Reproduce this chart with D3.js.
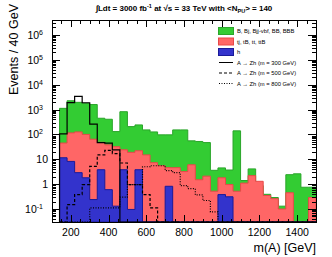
<!DOCTYPE html>
<html>
<head>
<meta charset="utf-8">
<style>
  body { margin: 0; background: #fff; }
  svg text { font-family: "Liberation Sans", Arial, sans-serif; fill: #000; }
  .frame { fill: none; stroke: #000; stroke-width: 1px; shape-rendering: crispEdges; }
  .tk { stroke: #000; stroke-width: 1px; shape-rendering: crispEdges; }
</style>
</head>
<body>
<script src="https://d3js.org/d3.v7.min.js"></script>
<script>
// binning: 40 GeV bins from 140 GeV
var binLow = 140, binWidth = 40;

// stacked tops as drawn (ROOT THStack): green = all, red = tt + h, blue = h
var bkgAll = [1120, 2260, 1950, 1780, 1590, 447, 407, 130, 820, 206, 241, 152,
              126, 96, 96, 152, 152, 55, 52, 47, 3.6, 4.5, 3.7, 139, 1.4, 4.1,
              0.87, 0.39, 0.29, 0.13, 2.4, 2.6, 0.75, 0.75];
var bkgTop = [45, 115, 126, 100, 64, 48, 38, 32, 24, 19, 22, 15,
              7.3, 5.5, 4.6, 4.6, 3.2, 6.0, 1.5, 2.1, 0.52, 1.8, 0.96, 0.52, 1.1, 2.2,
              1.3, 0.35, 0.26, 0.10, 0.45, 0, 0, 0.29];
var bkgH   = [11.5, 8.2, 2.9, 1.8, 0.24, 3.8, 0.6, 0.13, 3.8, 0.096, 3.8, 0,
              0, 0, 0.82, 0, 0, 0, 0, 0, 0, 0.38, 0.31, 0, 0, 0,
              0, 0, 0, 0, 0, 0, 0, 0];
// signals
var sig300 = [105, 1900, 3400, 1880, 260, 47, 45, 24, 0, 0, 0, 0,
              0, 0, 0, 0, 0, 0, 0, 0, 0, 0, 0, 0, 0, 0,
              0, 0, 0, 0, 0, 0, 0, 0];
var sig500 = [0, 0.15, 0.38, 0.96, 5.2, 15, 23, 17, 7.1, 0.96, 0.96, 0.38,
              0.11, 0, 0, 0, 0, 0, 0, 0, 0, 0, 0, 0, 0, 0,
              0, 0, 0, 0, 0, 0, 0, 0];
var sig800 = [0, 0, 0, 0, 0.11, 0.11, 0.11, 0.11, 0.3, 0.96, 0.96, 5,
              5.5, 5.5, 3.5, 2.9, 0.87, 0.66, 0.37, 0.22, 0.076, 0, 0, 0, 0, 0,
              0, 0, 0, 0, 0, 0, 0, 0];

var xTicks = [200, 400, 600, 800, 1000, 1200, 1400];
var yTicks = [0.1, 1, 10, 100, 1e3, 1e4, 1e5, 1e6];
var yLabels = [["10", "-1"], ["1", ""], ["10", ""], ["10", "2"], ["10", "3"],
               ["10", "4"], ["10", "5"], ["10", "6"]];

var legendNames = ["B, Bj, Bjj-vbf, BB, BBB", "tj, tB, tt, ttB", "h",
                   "A \u2192 Zh (m = 300 GeV)", "A \u2192 Zh (m = 500 GeV)",
                   "A \u2192 Zh (m = 800 GeV)"];

var W = 332, H = 257;
var pLeft = 52, pRight = 316, pTop = 20, pBottom = 222;

var svg = d3.select("body").append("svg")
    .attr("width", W).attr("height", H);

var x = d3.scaleLinear().domain([100, 1500]).range([pLeft, pRight]);
var y = d3.scaleLog().domain([0.03, 4e6]).range([pBottom, pTop]);

function yv(v) { return v > y.domain()[0] ? y(v) : pBottom; }

// step outline of a histogram, starting and ending on the floor
function steps(vals) {
  var pts = [[x(binLow), pBottom]];
  vals.forEach(function (v, i) {
    var x0 = x(binLow + i * binWidth), x1 = x(binLow + (i + 1) * binWidth);
    pts.push([x0, yv(v)], [Math.min(x1, pRight), yv(v)]);
  });
  pts.push([Math.min(x(binLow + vals.length * binWidth), pRight), pBottom]);
  return pts;
}
var line = d3.line();

var plot = svg.append("g");

// stacked backgrounds
[[bkgAll, "#33cc33", "#2aa52a"], [bkgTop, "#ff6666", "#e84848"], [bkgH, "#3333cc", "#1a1a99"]]
  .forEach(function (s) {
    plot.append("path")
        .attr("d", line(steps(s[0])) + "Z")
        .style("fill", s[1])
        .style("stroke", s[2])
        .style("stroke-width", "1px");
  });

// signal outlines
[[sig300, null], [sig500, "3,2"], [sig800, "1,1.5"]].forEach(function (s) {
  plot.append("path")
      .attr("d", line(steps(s[0])))
      .style("fill", "none")
      .style("stroke", "#000")
      .style("stroke-width", "1.2px")
      .style("stroke-dasharray", s[1]);
});

// frame
svg.append("rect").attr("class", "frame")
    .attr("x", pLeft + 0.5).attr("y", pTop + 0.5)
    .attr("width", pRight - pLeft).attr("height", pBottom - pTop);

// x ticks, bottom and top, pointing in
var xMinor = d3.range(150, 1500, 50);
xMinor.forEach(function (t) {
  var len = (t % 200 === 0) ? 7 : 3.5;
  var px = Math.round(x(t)) + 0.5;
  svg.append("line").attr("class", "tk")
      .attr("x1", px).attr("x2", px).attr("y1", pBottom).attr("y2", pBottom - len);
  svg.append("line").attr("class", "tk")
      .attr("x1", px).attr("x2", px).attr("y1", pTop).attr("y2", pTop + len);
});

svg.append("g").selectAll("text")
  .data(xTicks)
  .join("text")
    .attr("x", function (d) { return x(d); })
    .attr("y", pBottom + 14)
    .attr("text-anchor", "middle")
    .style("font-size", "10.5px")
    .text(function (d) { return d; });

// y ticks, left and right
var yMinor = y.ticks().filter(function (t) { return t >= 0.03 && t <= 4e6; });
yMinor.forEach(function (t) {
  var lg = Math.log10(t);
  var major = Math.abs(lg - Math.round(lg)) < 1e-6;
  var len = major ? 8 : 4;
  var py = Math.round(y(t)) + 0.5;
  svg.append("line").attr("class", "tk")
      .attr("x1", pLeft).attr("x2", pLeft + len).attr("y1", py).attr("y2", py);
  svg.append("line").attr("class", "tk")
      .attr("x1", pRight).attr("x2", pRight - len).attr("y1", py).attr("y2", py);
});

var yl = svg.append("g").selectAll("text")
  .data(yTicks)
  .join("text")
    .attr("x", function (d, i) { return yLabels[i][1] ? pLeft - 9 : pLeft - 4; })
    .attr("y", function (d) { return y(d) + 4; })
    .attr("text-anchor", "end")
    .style("font-size", "10.5px");
yl.append("tspan").text(function (d, i) { return yLabels[i][0]; });
yl.append("tspan")
    .attr("dy", -4)
    .style("font-size", "7px")
    .text(function (d, i) { return yLabels[i][1]; });

// axis titles
svg.append("text")
    .attr("x", pRight)
    .attr("y", 252)
    .attr("text-anchor", "end")
    .style("font-size", "12.5px")
    .text("m(A) [GeV]");

svg.append("text")
    .attr("transform", "translate(18,4) rotate(-90)")
    .attr("text-anchor", "end")
    .style("font-size", "12.5px")
    .text("Events / 40 GeV");

// title
var title = svg.append("text")
    .attr("x", 184)
    .attr("y", 11)
    .attr("text-anchor", "middle")
    .style("font-size", "8px")
    .style("font-weight", "bold");
title.append("tspan").text("\u222BLdt = 3000 fb");
title.append("tspan").attr("dy", -3).style("font-size", "5.5px").text("-1");
title.append("tspan").attr("dy", 3).text(" at \u221As = 33 TeV with <N");
title.append("tspan").attr("dy", 2).style("font-size", "5.5px").text("PU");
title.append("tspan").attr("dy", -2).text("> = 140");

// legend
var lg = svg.append("g");
var legY = [31, 41.5, 52, 62.5, 73, 83.5];
var boxes = [["#33cc33", "#2aa52a"], ["#ff6666", "#e84848"], ["#3333cc", "#1a1a99"]];
boxes.forEach(function (b, i) {
  lg.append("rect")
      .attr("x", 218.5).attr("y", legY[i] - 3.5)
      .attr("width", 15).attr("height", 7)
      .style("fill", b[0]).style("stroke", b[1]);
});
[null, "3,2", "1,1.5"].forEach(function (d, i) {
  lg.append("line")
      .attr("x1", 219).attr("x2", 233)
      .attr("y1", legY[i + 3]).attr("y2", legY[i + 3])
      .style("stroke", "#000").style("stroke-width", "1px")
      .style("stroke-dasharray", d);
});
lg.selectAll("text")
  .data(legendNames)
  .join("text")
    .attr("x", 237)
    .attr("y", function (d, i) { return legY[i] + 2; })
    .style("font-size", "5.8px")
    .text(function (d) { return d; });
</script>
</body>
</html>
